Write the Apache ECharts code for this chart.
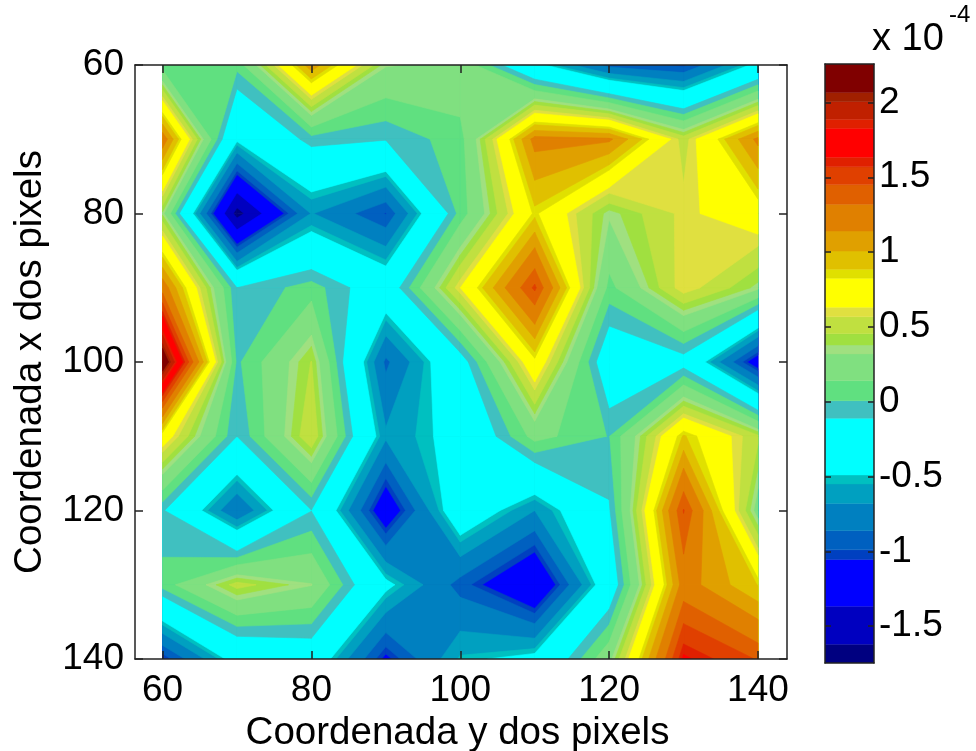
<!DOCTYPE html>
<html>
<head>
<meta charset="utf-8">
<style>html,body{margin:0;padding:0;background:#fff}#c{width:976px;height:751px}</style>
<script src="https://cdn.jsdelivr.net/npm/echarts@6/dist/echarts.min.js"></script>
</head>
<body>
<div id="c"></div>
<script>
// Axis node positions
const xNodes = [60, 70, 80, 90, 100, 110, 120, 130, 140];
const yNodes = [60, 70, 80, 90, 100, 110, 120, 130, 140];
// Field values (x 10^-4), one row per y node
const row60  = [0.06, 0.05, 1.1, 0.33, 0.28, -0.42, -0.92, -1.02, -0.42];
const row70  = [1.25, -0.45, -0.05, -0.1, 0.08, 1.2, 1.17, 0.52, 1.18];
const row80  = [0.36, -1.72, -0.67, -1.0, 0.06, 0.85, 0.34, 0.6, 0.74];
const row90  = [1.25, -0.11, 0.07, -0.28, 0.63, 1.48, 0.09, 0.63, 0.35];
const row100 = [2.25, -0.02, 0.46, -0.9, -0.22, 0.79, -0.3, -0.2, -1.2];
const row110 = [0.75, -0.11, 0.56, -0.65, -0.4, 0.2, 0.0, 0.9, 0.48];
const row120 = [-0.09, -0.85, -0.115, -1.25, -0.27, -0.68, -0.13, 1.46, 0.25];
const row130 = [0.064, 0.5, 0.325, -0.43, -0.93, -1.35, -0.3, 1.22, 0.88];
const row140 = [-1.07, -0.38, -0.28, -1.1, -0.53, -0.42, 0.27, 1.66, 1.44];
const rows = [row60, row70, row80, row90, row100, row110, row120, row130, row140];
// Contour levels: lower bound of every band, ascending, with its colour
const levelFloors = [-1.746, -1.62, -1.366, -1.054, -0.99, -0.862, -0.68, -0.55, -0.49, -0.111, 0.007, 0.14, 0.319, 0.379, 0.455, 0.568, 0.631, 0.825, 0.885, 1.007, 1.141, 1.319, 1.451, 1.571, 1.634, 1.827, 1.888, 2.005, 2.066];
const levelColors = ['#000080', '#0000c0', '#0000ff', '#0040c0', '#0060c0', '#0080c0', '#00a0c0', '#00c0c0', '#00ffff', '#40c0c0', '#60e080', '#80e080', '#a0e080', '#a0e040', '#c0e040', '#e0e040', '#ffff00', '#e0e000', '#e0c000', '#e0a000', '#e08000', '#e06000', '#e04000', '#e02000', '#ff0000', '#e02000', '#c02000', '#a02000', '#800000'];
const barTop = 2.257;
// Tick labels
const xTicks = [60, 80, 100, 120, 140];
const yTicks = [60, 80, 100, 120, 140];
const barTicks = [-1.5, -1, -0.5, 0, 0.5, 1, 1.5, 2];

const FONT = '"Liberation Sans", Arial, sans-serif';
const INK = '#222';

function cross(a, b, floor) {
  const t = (floor - a[2]) / (b[2] - a[2]);
  return [a[0] + t * (b[0] - a[0]), a[1] + t * (b[1] - a[1]), floor];
}

// polygons of one grid cell where value >= floor
function clipCell(corners, floor) {
  const up = corners.map(p => p[2] >= floor);
  const saddle = up[0] === up[2] && up[1] === up[3] && up[0] !== up[1];
  const mean = corners.reduce((s, p) => s + p[2], 0) / 4;
  if (saddle && mean < floor) {
    const parts = [];
    for (let k = 0; k < 4; k++) {
      if (up[k]) {
        const p = corners[k], n = corners[(k + 1) % 4], q = corners[(k + 3) % 4];
        parts.push([p, cross(p, n, floor), cross(p, q, floor)]);
      }
    }
    return parts;
  }
  const out = [];
  for (let i = 0; i < 4; i++) {
    const a = corners[i], b = corners[(i + 1) % 4];
    if (a[2] >= floor) out.push(a);
    if ((a[2] >= floor) !== (b[2] >= floor)) out.push(cross(a, b, floor));
  }
  return out.length >= 3 ? [out] : [];
}

function renderContour(params, api) {
  const i = params.dataIndex;
  const floor = levelFloors[i], color = levelColors[i];
  const children = [];
  for (let r = 0; r < yNodes.length - 1; r++) {
    for (let c = 0; c < xNodes.length - 1; c++) {
      const corners = [
        [xNodes[c], yNodes[r], rows[r][c]],
        [xNodes[c + 1], yNodes[r], rows[r][c + 1]],
        [xNodes[c + 1], yNodes[r + 1], rows[r + 1][c + 1]],
        [xNodes[c], yNodes[r + 1], rows[r + 1][c]]
      ];
      const polys = i === 0 ? [corners] : clipCell(corners, floor);
      polys.forEach(poly => {
        children.push({
          type: 'polygon',
          shape: { points: poly.map(p => api.coord([p[0], p[1]])) },
          style: { fill: color, stroke: color, lineWidth: 0.6 },
          silent: true
        });
      });
    }
  }
  return { type: 'group', children };
}

function renderBar(params, api) {
  const i = params.dataIndex;
  const lo = levelFloors[i];
  const hi = i + 1 < levelFloors.length ? levelFloors[i + 1] : barTop;
  const a = api.coord([0, hi]), b = api.coord([1, lo]);
  return {
    type: 'rect',
    shape: { x: a[0], y: a[1], width: b[0] - a[0], height: b[1] - a[1] },
    style: { fill: levelColors[i], stroke: levelColors[i], lineWidth: 0.4 },
    silent: true
  };
}

const axisLine = { show: true, onZero: false, lineStyle: { color: INK, width: 1.5 } };
const labelStyle = { color: '#000', fontFamily: FONT, fontSize: 37 };
const nameStyle = { color: '#000', fontFamily: FONT, fontSize: 38.5 };
function tick(values, len) {
  return { show: true, inside: true, length: len, customValues: values, lineStyle: { color: INK, width: 1.5 } };
}

const chart = echarts.init(document.getElementById('c'), null, { renderer: 'canvas' });
chart.setOption({
  animation: false,
  backgroundColor: '#fff',
  grid: [
    { left: 135, top: 65, width: 652, height: 594, containLabel: false, outerBoundsMode: 'none' },
    { left: 825, top: 64, width: 49, height: 599, containLabel: false, outerBoundsMode: 'none' }
  ],
  xAxis: [
    {
      gridIndex: 0, type: 'value', min: 56.3, max: 143.9, position: 'bottom', z: 5,
      axisLine, axisTick: tick(xTicks, 8), splitLine: { show: false },
      axisLabel: { ...labelStyle, margin: 13, customValues: xTicks, showMinLabel: true, showMaxLabel: true },
      name: 'Coordenada y dos pixels', nameLocation: 'middle', nameGap: 51, nameTextStyle: { ...nameStyle, padding: [0, 7, 0, 0] }
    },
    {
      gridIndex: 0, type: 'value', min: 56.3, max: 143.9, position: 'top', z: 5,
      axisLine, axisTick: tick(xTicks, 8), splitLine: { show: false }, axisLabel: { show: false }
    },
    {
      gridIndex: 1, type: 'value', min: 0, max: 1, position: 'bottom', z: 5,
      axisLine, axisTick: { show: false }, splitLine: { show: false }, axisLabel: { show: false }
    },
    {
      gridIndex: 1, type: 'value', min: 0, max: 1, position: 'top', z: 5,
      axisLine, axisTick: { show: false }, splitLine: { show: false }, axisLabel: { show: false }
    }
  ],
  yAxis: [
    {
      gridIndex: 0, type: 'value', min: 60, max: 140, inverse: true, position: 'left', z: 5,
      axisLine, axisTick: tick(yTicks, 8), splitLine: { show: false },
      axisLabel: { ...labelStyle, margin: 11, padding: [6, 0, 0, 0], customValues: yTicks, showMinLabel: true, showMaxLabel: true },
      name: 'Coordenada x dos pixels', nameLocation: 'middle', nameGap: 85, nameTextStyle: nameStyle
    },
    {
      gridIndex: 0, type: 'value', min: 60, max: 140, inverse: true, position: 'right', z: 5,
      axisLine, axisTick: tick(yTicks, 8), splitLine: { show: false }, axisLabel: { show: false }
    },
    {
      gridIndex: 1, type: 'value', min: levelFloors[0], max: barTop, position: 'right', z: 5,
      axisLine, axisTick: tick(barTicks, 6), splitLine: { show: false },
      axisLabel: { ...labelStyle, margin: 5, padding: [7, 0, 0, 0], customValues: barTicks, showMinLabel: true, showMaxLabel: true }
    },
    {
      gridIndex: 1, type: 'value', min: levelFloors[0], max: barTop, position: 'left', z: 5,
      axisLine, axisTick: tick(barTicks, 6), splitLine: { show: false }, axisLabel: { show: false }
    }
  ],
  graphic: [
    { type: 'text', left: 872, top: 21, style: { text: 'x 10', fill: '#000', font: '38px ' + FONT } },
    { type: 'text', left: 949, top: 3, style: { text: '-4', fill: '#000', font: '24px ' + FONT } }
  ],
  series: [
    {
      type: 'custom', coordinateSystem: 'cartesian2d', xAxisIndex: 0, yAxisIndex: 0,
      clip: true, renderItem: renderContour, data: levelFloors.map(f => [f]), z: 2
    },
    {
      type: 'custom', coordinateSystem: 'cartesian2d', xAxisIndex: 2, yAxisIndex: 2,
      clip: true, renderItem: renderBar, data: levelFloors.map(f => [f]), z: 2
    }
  ]
});
</script>
</body>
</html>
